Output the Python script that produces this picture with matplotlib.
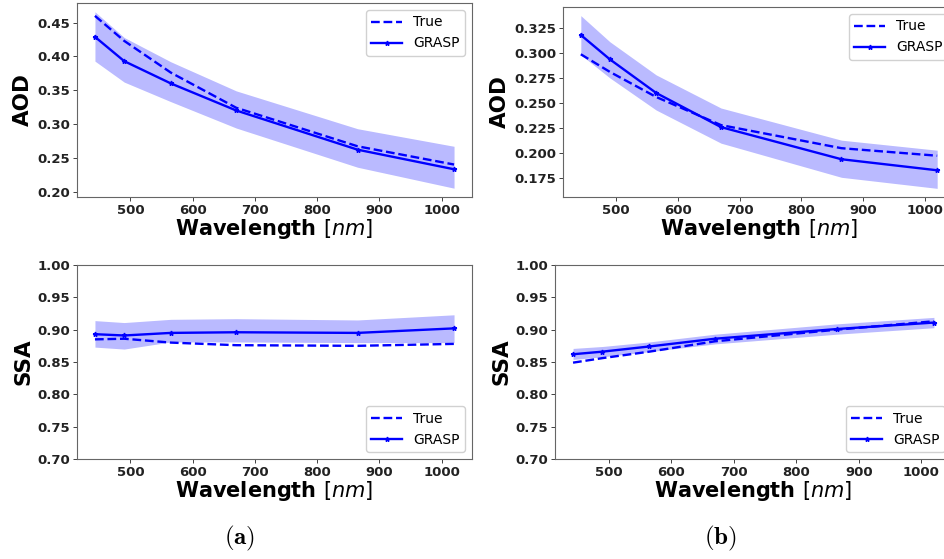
import numpy as np
import matplotlib
matplotlib.use("Agg")
import matplotlib.pyplot as plt

plt.rcParams["mathtext.fontset"] = "dejavusans"

# wavelengths [nm]
wavelengths = [443, 490, 565, 670, 865, 1020]

# panel (a)
aod_true_a = [0.460, 0.423, 0.376, 0.324, 0.267, 0.240]
aod_grasp_a = [0.429, 0.393, 0.360, 0.320, 0.262, 0.233]
aod_hi_a = [0.466, 0.428, 0.392, 0.349, 0.293, 0.267]
aod_lo_a = [0.393, 0.362, 0.333, 0.294, 0.236, 0.205]

ssa_true_a = [0.885, 0.886, 0.880, 0.876, 0.875, 0.878]
ssa_grasp_a = [0.893, 0.891, 0.895, 0.896, 0.895, 0.902]
ssa_hi_a = [0.914, 0.911, 0.916, 0.917, 0.915, 0.923]
ssa_lo_a = [0.873, 0.870, 0.881, 0.881, 0.880, 0.880]

# panel (b)
aod_true_b = [0.2985, 0.281, 0.256, 0.228, 0.205, 0.1975]
aod_grasp_b = [0.3177, 0.2935, 0.260, 0.226, 0.194, 0.183]
aod_hi_b = [0.337, 0.311, 0.278, 0.245, 0.213, 0.203]
aod_lo_b = [0.298, 0.275, 0.243, 0.210, 0.176, 0.165]

ssa_true_b = [0.849, 0.856, 0.866, 0.882, 0.900, 0.913]
ssa_grasp_b = [0.862, 0.866, 0.874, 0.886, 0.901, 0.911]
ssa_hi_b = [0.871, 0.874, 0.881, 0.893, 0.909, 0.919]
ssa_lo_b = [0.854, 0.858, 0.866, 0.878, 0.893, 0.903]

W, H = 944, 559
fig = plt.figure(figsize=(W / 100, H / 100), dpi=100)


def px_axes(left, top, right, bottom):
    return fig.add_axes([left / W, 1 - bottom / H, (right - left) / W, (bottom - top) / H])


def draw(ax, true, grasp, lo, hi, ylabel, yticks, fmt, legend_loc):
    ax.fill_between(wavelengths, lo, hi, color="blue", alpha=0.27, linewidth=0)
    ax.plot(wavelengths, true, "--", color="blue", lw=1.7, label="True")
    ax.plot(wavelengths, grasp, "-", color="blue", lw=1.7, marker="*",
            markersize=3.5, label="GRASP")
    ax.set_xticks([500, 600, 700, 800, 900, 1000])
    ax.set_yticks(yticks)
    ax.set_yticklabels([fmt.format(v) for v in yticks])
    ax.tick_params(labelsize=9.5, length=3, width=0.6, pad=2, colors="#222222")
    plt.setp(ax.get_xticklabels(), fontweight="bold")
    plt.setp(ax.get_yticklabels(), fontweight="bold")
    ax.set_xlabel(r"Wavelength $[nm]$", fontsize=15, fontweight="bold", labelpad=0)
    ax.set_ylabel(ylabel, fontsize=15.5, fontweight="bold", labelpad=3)
    for s in ax.spines.values():
        s.set_color("#666666")
        s.set_linewidth(0.8)
    ax.legend(loc=legend_loc, fontsize=10, handlelength=2.2, framealpha=0.9,
              edgecolor="#cccccc")


ax1 = px_axes(77, 3, 472, 197)
draw(ax1, aod_true_a, aod_grasp_a, aod_lo_a, aod_hi_a, "AOD",
     [0.20, 0.25, 0.30, 0.35, 0.40, 0.45], "{:.2f}", "upper right")

ax2 = px_axes(563, 7, 955, 197)
draw(ax2, aod_true_b, aod_grasp_b, aod_lo_b, aod_hi_b, "AOD",
     [0.175, 0.200, 0.225, 0.250, 0.275, 0.300, 0.325], "{:.3f}", "upper right")

ax3 = px_axes(77, 265, 472, 459)
draw(ax3, ssa_true_a, ssa_grasp_a, ssa_lo_a, ssa_hi_a, "SSA",
     [0.70, 0.75, 0.80, 0.85, 0.90, 0.95, 1.00], "{:.2f}", "lower right")
ax3.set_ylim(0.70, 1.00)

ax4 = px_axes(555, 265, 952, 459)
draw(ax4, ssa_true_b, ssa_grasp_b, ssa_lo_b, ssa_hi_b, "SSA",
     [0.70, 0.75, 0.80, 0.85, 0.90, 0.95, 1.00], "{:.2f}", "lower right")
ax4.set_ylim(0.70, 1.00)

# subfigure captions in a Computer Modern look
for x, lab in [(240, "a"), (720, "b")]:
    fig.text(x / W, 1 - 538 / H, r"$\mathbf{(" + lab + r")}$", ha="center",
             va="center", fontsize=18, math_fontfamily="cm")

fig.savefig("out.png", dpi=100, facecolor="white")
